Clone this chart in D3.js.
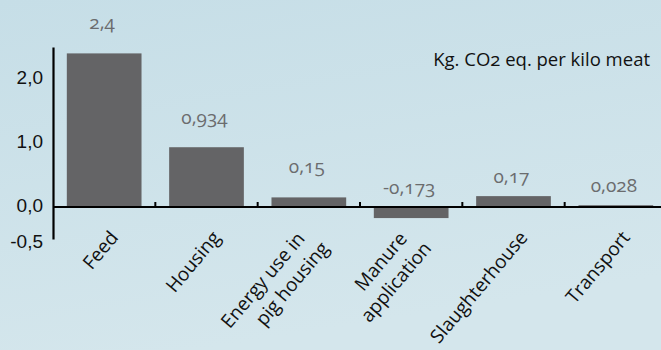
<!DOCTYPE html>
<html>
<head>
<meta charset="utf-8">
<script src="https://cdn.jsdelivr.net/npm/d3@7"></script>
<style>
  html, body { margin: 0; padding: 0; }
  body { width: 661px; height: 350px; overflow: hidden; }
  svg { display: block; font-family: "Open Sans", "Noto Sans", sans-serif; font-variant-numeric: oldstyle-nums; font-feature-settings: "onum" 1; }
</style>
</head>
<body>
<svg id="chart" width="661" height="350"></svg>
<script>
// Carbon footprint of pork by stage of production
const categories = [["Feed"], ["Housing"], ["Energy use in", "pig housing"], ["Manure", "application"], ["Slaughterhouse"], ["Transport"]];
const values = [2.4, 0.934, 0.15, -0.173, 0.17, 0.028];
const valueLabels = ["2,4", "0,934", "0,15", "-0,173", "0,17", "0,028"];
const yTicks = [2.0, 1.0, 0.0, -0.5];
const yTickLabels = ["2,0", "1,0", "0,0", "-0,5"];
const unitLabel = "Kg. CO2 eq. per kilo meat";

const svg = d3.select("#chart");
const W = 661, H = 350;

// background
const defs = svg.append("defs");
const grad = defs.append("linearGradient").attr("id", "bg").attr("x1", 0).attr("y1", 0).attr("x2", 0.3).attr("y2", 1);
grad.append("stop").attr("offset", "0%").attr("stop-color", "#c6dee7");
grad.append("stop").attr("offset", "100%").attr("stop-color", "#d4e6ec");
svg.append("rect").attr("width", W).attr("height", H).attr("fill", "url(#bg)");

const idx = d3.range(values.length);
const x = d3.scaleBand().domain(idx).range([53, 667]).paddingInner(0.27).paddingOuter(0.135);
const y = d3.scaleLinear().domain([-0.5, 2.5]).range([239, 47]);
const cx = i => x(i) + x.bandwidth() / 2;

// bars
svg.append("g").selectAll("rect").data(idx).join("rect")
  .attr("x", i => x(i))
  .attr("width", x.bandwidth())
  .attr("y", i => y(Math.max(0, values[i])))
  .attr("height", i => Math.abs(y(values[i]) - y(0)))
  .attr("fill", "#646466");

// value labels, lifted above the top of each bar (or above the baseline for negatives)
const labelLift = [24, 23, 24, 13, 13, 13];
svg.append("g").selectAll("text").data(idx).join("text")
  .attr("x", i => cx(i) - 2)
  .attr("y", i => y(Math.max(0, values[i])) - labelLift[i])
  .attr("text-anchor", "middle")
  .attr("font-size", 19)
  .attr("fill", "#6b6c6e")
  .text(i => valueLabels[i]);

// y axis
const yAxis = svg.append("g").attr("transform", "translate(53,0)")
  .call(d3.axisLeft(y).tickValues(yTicks).tickSize(0).tickPadding(10).tickFormat((d, i) => yTickLabels[i]));
yAxis.select(".domain").attr("stroke", "#000").attr("stroke-width", 2.2);
yAxis.selectAll("text").attr("font-size", 19).attr("fill", "#111").attr("font-family", "inherit").attr("dy", "0.25em");
yAxis.selectAll(".tick").filter(d => d < 0).select("text").attr("dy", "0.45em");

// x axis along zero with small upward ticks between bars
const step = x.step();
const boundaries = idx.slice(1).map(i => x(i) - (step - x.bandwidth()) / 2);
const xAxisG = svg.append("g");
xAxisG.append("line").attr("x1", 53).attr("x2", W).attr("y1", y(0)).attr("y2", y(0))
  .attr("stroke", "#000").attr("stroke-width", 2.2);
xAxisG.selectAll("line.tick").data(boundaries).join("line").attr("class", "tick")
  .attr("x1", d => d).attr("x2", d => d).attr("y1", y(0)).attr("y2", y(0) - 5)
  .attr("stroke", "#000").attr("stroke-width", 2);

// category labels, rotated
const cat = svg.append("g").selectAll("text").data(idx).join("text")
  .attr("transform", i => categories[i].length > 1
    ? `translate(${cx(i) - 3},${y(0) + 32}) rotate(-50)`
    : `translate(${cx(i) + 15},${y(0) + 31}) rotate(-50)`)
  .attr("text-anchor", "end")
  .attr("font-size", 19)
  .attr("fill", "#111");
cat.each(function (i) {
  const lines = categories[i];
  d3.select(this).selectAll("tspan").data(lines).join("tspan")
    .attr("x", (d, k) => k === 0 ? 0 : 8)
    .attr("dy", (d, k) => k === 0 ? 0 : "1.3em")
    .text(d => d);
});

// unit label
svg.append("text").attr("x", 650).attr("y", 66).attr("text-anchor", "end")
  .attr("font-size", 18.5).attr("fill", "#111").text(unitLabel);
</script>
</body>
</html>
